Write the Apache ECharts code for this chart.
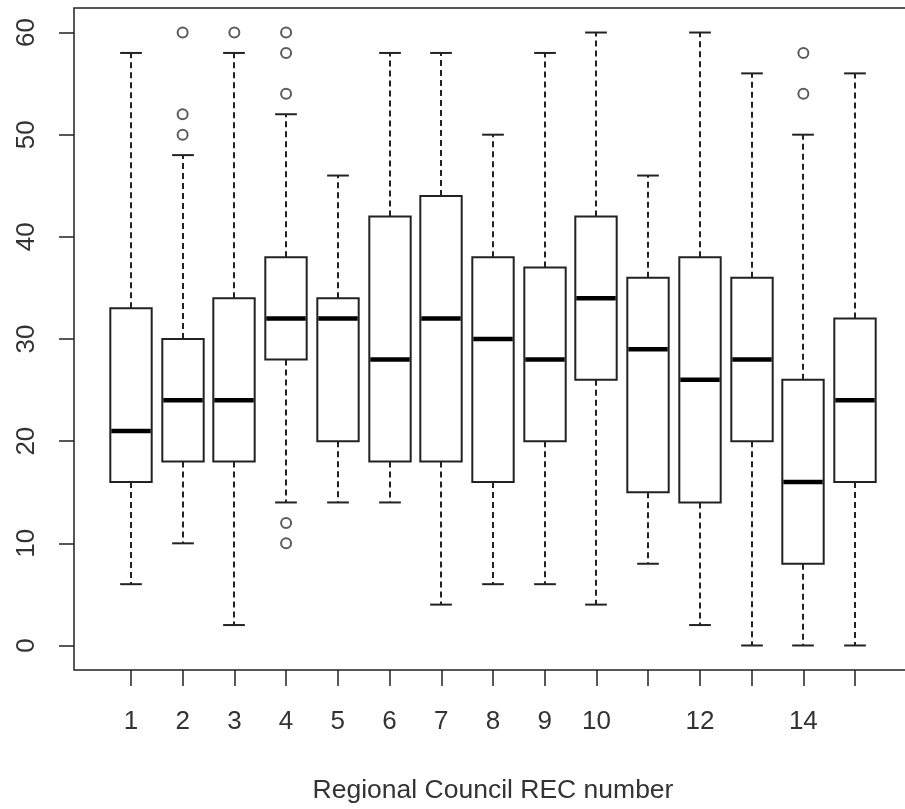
<!DOCTYPE html>
<html>
<head>
<meta charset="utf-8">
<title>Regional Council REC number</title>
<script src="https://cdn.jsdelivr.net/npm/echarts@6/dist/echarts.min.js"></script>
<style>
  html, body { margin: 0; padding: 0; background: #fff; }
  #chart { width: 905px; height: 809px; }
</style>
</head>
<body>
<div id="chart"></div>
<script>
// REC number of each box
const recs = [1, 2, 3, 4, 5, 6, 7, 8, 9, 10, 11, 12, 13, 14, 15];
// five numbers of each box
const lowWhisker = [6, 10, 2, 14, 14, 14, 4, 6, 6, 4, 8, 2, 0, 0, 0];
const q1 = [16, 18, 18, 28, 20, 18, 18, 16, 20, 26, 15, 14, 20, 8, 16];
const medians = [21, 24, 24, 32, 32, 28, 32, 30, 28, 34, 29, 26, 28, 16, 24];
const q3 = [33, 30, 34, 38, 34, 42, 44, 38, 37, 42, 36, 38, 36, 26, 32];
const highWhisker = [58, 48, 58, 52, 46, 58, 58, 50, 58, 60, 46, 60, 56, 50, 56];
// outliers as [rec, value]
const outliers = [
  [2, 60], [2, 52], [2, 50],
  [3, 60],
  [4, 60], [4, 58], [4, 54], [4, 12], [4, 10],
  [14, 58], [14, 54]
];
const xTicks = recs;
const xLabels = [1, 2, 3, 4, 5, 6, 7, 8, 9, 10, 12, 14];
const yTicks = [0, 10, 20, 30, 40, 50, 60];

const ink = '#222';
const textColor = '#333';
const font = 'Liberation Sans, Arial, sans-serif';

const boxData = recs.map((r, i) => [r, lowWhisker[i], q1[i], medians[i], q3[i], highWhisker[i]]);

function renderBox(params, api) {
  const x = api.value(0);
  const unit = api.size([1, 0])[0];
  const half = unit * 0.4;
  const staple = unit * 0.21;
  const pLow = api.coord([x, api.value(1)]);
  const pQ1 = api.coord([x, api.value(2)]);
  const pMed = api.coord([x, api.value(3)]);
  const pQ3 = api.coord([x, api.value(4)]);
  const pHigh = api.coord([x, api.value(5)]);
  const cx = Math.round(pMed[0]);
  const dashed = { stroke: ink, lineWidth: 2, lineDash: [6, 4] };
  const solid = { stroke: ink, lineWidth: 2 };
  return {
    type: 'group',
    children: [
      { type: 'line', shape: { x1: cx, y1: pQ3[1], x2: cx, y2: pHigh[1] }, style: dashed },
      { type: 'line', shape: { x1: cx, y1: pQ1[1], x2: cx, y2: pLow[1] }, style: dashed },
      { type: 'line', shape: { x1: cx - staple, y1: pHigh[1], x2: cx + staple, y2: pHigh[1] }, style: solid },
      { type: 'line', shape: { x1: cx - staple, y1: pLow[1], x2: cx + staple, y2: pLow[1] }, style: solid },
      {
        type: 'rect',
        shape: { x: cx - half, y: pQ3[1], width: half * 2, height: pQ1[1] - pQ3[1] },
        style: { fill: '#fff', stroke: ink, lineWidth: 2 }
      },
      {
        type: 'line',
        shape: { x1: cx - half + 1, y1: pMed[1], x2: cx + half - 1, y2: pMed[1] },
        style: { stroke: '#000', lineWidth: 4.5 }
      }
    ]
  };
}

const chart = echarts.init(document.getElementById('chart'));
chart.setOption({
  backgroundColor: '#fff',
  animation: false,
  grid: {
    left: 74, top: 8, width: 838, height: 662,
    outerBoundsMode: 'none',
    containLabel: false,
    show: true, borderColor: ink, borderWidth: 1.5, backgroundColor: 'transparent'
  },
  xAxis: {
    type: 'value',
    min: -0.1,
    max: 16.1,
    name: 'Regional Council REC number',
    nameLocation: 'middle',
    nameGap: 107,
    nameTextStyle: { fontSize: 26.5, color: textColor, fontFamily: font },
    axisLine: { show: false, onZero: false },
    axisTick: { show: true, length: 16, customValues: xTicks, lineStyle: { color: ink, width: 1.5 } },
    axisLabel: { customValues: xLabels, margin: 39, fontSize: 26, color: textColor, fontFamily: font },
    splitLine: { show: false }
  },
  yAxis: {
    type: 'value',
    min: -2.4,
    max: 62.4,
    axisLine: { show: false, onZero: false },
    axisTick: { show: true, length: 15, customValues: yTicks, lineStyle: { color: ink, width: 1.5 } },
    axisLabel: { customValues: yTicks, rotate: 90, margin: 34, fontSize: 26, color: textColor, fontFamily: font },
    splitLine: { show: false }
  },
  series: [
    {
      type: 'custom',
      renderItem: renderBox,
      encode: { x: 0, y: [1, 2, 3, 4, 5] },
      data: boxData,
      clip: false
    },
    {
      type: 'scatter',
      data: outliers,
      symbol: 'emptyCircle',
      symbolSize: 10,
      itemStyle: { color: '#333', borderColor: '#333', borderWidth: 1.5 }
    }
  ]
});
</script>
</body>
</html>
